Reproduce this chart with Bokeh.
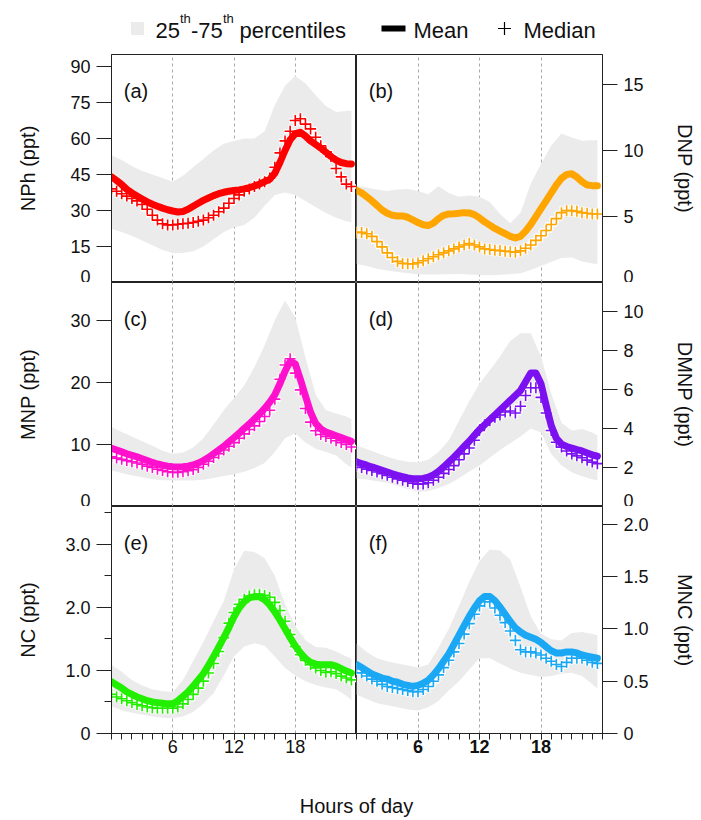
from bokeh.plotting import figure
from bokeh.layouts import column, row
from bokeh.models import Range1d, FixedTicker, PrintfTickFormatter, Label
from bokeh.embed import file_html
from bokeh.resources import INLINE

FONT = "Liberation Sans"

hours = [0, 0.5, 1, 1.5, 2, 2.5, 3, 3.5, 4, 4.5, 5, 5.5, 6, 6.5, 7, 7.5, 8, 8.5, 9, 9.5,
         10, 10.5, 11, 11.5, 12, 12.5, 13, 13.5, 14, 14.5, 15, 15.5, 16, 16.5, 17, 17.5,
         18, 18.5, 19, 19.5, 20, 20.5, 21, 21.5, 22, 22.5, 23, 23.5]
band_hours = [0, 1, 2, 3, 4, 5, 6, 7, 8, 9, 10, 11, 12, 13, 14, 15, 16, 17, 18, 19, 20, 21, 22, 23, 23.5]
hour_ticks = [6, 12, 18]

# (a) NPh
mean_a = [44, 42.5, 40.8, 38.8, 37.3, 36, 34.8, 33.6, 32.6, 31.8, 31, 30.3, 29.8, 29.4, 29.6, 30.5,
          31.8, 33, 34.2, 35.2, 36.2, 37, 37.6, 38, 38.3, 38.6, 39, 39.5, 40.2, 41, 42, 43,
          45.5, 50, 55, 59.5, 62, 62.6, 61, 59, 57.5, 56, 54.3, 52.5, 51, 50, 49.5, 49.4]
median_a = [39, 38, 37, 36, 35, 34, 32.5, 30.5, 28, 26, 24.5, 24, 24, 24.3, 24.5, 24.7,
            25, 25.5, 26, 27, 28, 29.5, 31, 33, 35, 36.5, 38, 39, 40, 41, 42, 43.5,
            48, 54, 59, 63, 67.5, 68.2, 66, 64, 60.5, 57, 54.5, 52.5, 47.5, 44, 41, 40]
p75_a = [53, 51, 48.5, 46.5, 45, 43.5, 42, 44.5, 48, 51.5, 55, 57.8, 59, 60, 60, 63,
         74, 82, 86, 83, 78, 73.5, 71, 71.5, 71.7]
p25_a = [22.4, 21, 19.5, 17.5, 15.5, 13.5, 12.3, 12.3, 13, 15, 18, 21, 23, 24, 27, 32,
         36.5, 37.5, 36.5, 34, 31.5, 29, 27, 25.5, 25.1]

# (b) DNP
mean_b = [7.0, 6.8, 6.5, 6.2, 5.85, 5.5, 5.25, 5.1, 5.05, 5.05, 4.95, 4.75, 4.55, 4.38, 4.32, 4.5,
          4.85, 5.1, 5.2, 5.22, 5.25, 5.3, 5.28, 5.15, 4.9, 4.6, 4.35, 4.1, 3.9, 3.7, 3.5, 3.38,
          3.5, 3.9, 4.4, 5.0, 5.6, 6.2, 6.8, 7.4, 7.9, 8.2, 8.25, 8.0, 7.65, 7.4, 7.35, 7.35]
median_b = [3.8, 3.8, 3.7, 3.5, 3.1, 2.7, 2.25, 1.9, 1.6, 1.45, 1.42, 1.4, 1.5, 1.65, 1.8, 1.95,
            2.1, 2.25, 2.4, 2.55, 2.7, 2.85, 2.95, 2.85, 2.7, 2.55, 2.5, 2.45, 2.42, 2.38, 2.33, 2.3,
            2.4, 2.6, 2.85, 3.2, 3.55, 3.95, 4.4, 4.85, 5.3, 5.45, 5.45, 5.4, 5.3, 5.25, 5.2, 5.2]
p75_b = [7.35, 7.2, 7.05, 6.95, 7.05, 7.1, 6.95, 6.7, 7.3, 6.8, 6.5, 6.6, 6.5, 6.1, 5.2, 4.5,
         5.3, 7.5, 9.0, 10.4, 11.3, 11.0, 10.75, 10.8, 10.8]
p25_b = [1.4, 1.25, 1.05, 0.92, 0.8, 0.7, 0.62, 0.6, 0.6, 0.62, 0.64, 0.6, 0.56, 0.55, 0.58, 0.62,
         0.7, 0.95, 1.25, 1.55, 1.85, 1.9, 1.6, 1.45, 1.4]

# (c) MNP
mean_c = [9.4, 9.1, 8.8, 8.5, 8.25, 8.0, 7.7, 7.4, 7.1, 6.85, 6.65, 6.5, 6.4, 6.35, 6.4, 6.5,
          6.7, 7.0, 7.4, 7.9, 8.5, 9.1, 9.7, 10.4, 11.1, 11.8, 12.6, 13.3, 14.1, 14.9, 15.8, 16.8,
          18.0, 19.8, 21.8, 23.4, 23.0, 20.5, 17.8, 15.2, 13.4, 12.5, 12.0, 11.7, 11.4, 11.1, 10.8, 10.5]
median_c = [8.0, 7.8, 7.6, 7.4, 7.2, 7.0, 6.8, 6.5, 6.3, 6.0, 5.8, 5.6, 5.5, 5.5, 5.6, 5.75,
            5.95, 6.3, 6.8, 7.3, 7.9, 8.5, 9.1, 9.7, 10.3, 11.0, 11.7, 12.4, 13.0, 13.7, 14.5, 15.5,
            17.3, 20.5, 22.8, 23.8, 21.5, 18.8, 15.8, 13.6, 12.2, 11.6, 11.3, 11.0, 10.6, 10.3, 10.0, 9.6]
p75_c = [12.8, 12.0, 11.3, 10.5, 9.8, 9.0, 8.5, 8.7, 9.5, 11.0, 13.2, 15.5, 17.5, 19.5, 22.5, 26,
         30, 33.2, 30.5, 24, 18, 15.5, 15.0, 14.5, 14.1]
p25_c = [5.8, 5.4, 5.0, 4.7, 4.4, 4.25, 4.2, 4.2, 4.2, 4.3, 4.6, 4.9, 5.2, 5.6, 6.2, 7.0,
         8.8, 11.0, 11.8, 10.3, 9.3, 8.8, 8.2, 6.8, 6.3]

# (d) DMNP
mean_d = [2.3, 2.2, 2.12, 2.03, 1.95, 1.86, 1.77, 1.68, 1.6, 1.53, 1.47, 1.43, 1.42, 1.44, 1.5, 1.62,
          1.8, 2.03, 2.28, 2.53, 2.8, 3.08, 3.35, 3.65, 3.95, 4.2, 4.45, 4.7, 4.95, 5.2, 5.45, 5.7,
          5.95, 6.4, 6.85, 6.85, 6.3, 5.2, 4.15, 3.5, 3.2, 3.08, 3.0, 2.92, 2.85, 2.75, 2.65, 2.58]
median_d = [2.1, 2.0, 1.92, 1.85, 1.77, 1.68, 1.6, 1.5, 1.42, 1.35, 1.28, 1.2, 1.14, 1.16, 1.22, 1.35,
            1.5, 1.7, 1.9, 2.1, 2.4, 2.7, 3.0, 3.4, 3.9, 4.2, 4.4, 4.58, 4.7, 4.85, 4.9, 4.8,
            5.15, 5.7, 6.1, 6.1, 5.6, 4.8, 3.9, 3.3, 3.05, 2.85, 2.7, 2.6, 2.5, 2.38, 2.28, 2.2]
p75_d = [3.13, 2.95, 2.75, 2.55, 2.4, 2.3, 2.27, 2.4, 2.8, 3.4, 4.4, 5.4, 6.3, 7.0, 7.7, 8.5,
         8.9, 8.9, 7.7, 5.8, 4.3, 3.9, 3.98, 3.8, 3.64]
p25_d = [1.42, 1.38, 1.3, 1.22, 1.05, 0.9, 0.75, 0.8, 0.95, 1.15, 1.45, 1.8, 2.1, 2.5, 2.9, 3.25,
         3.6, 4.0, 3.8, 2.7, 2.1, 1.76, 1.55, 1.4, 1.33]

# (e) NC
mean_e = [0.82, 0.77, 0.72, 0.66, 0.62, 0.58, 0.55, 0.52, 0.5, 0.49, 0.48, 0.47, 0.47, 0.52, 0.59, 0.66,
          0.75, 0.85, 0.95, 1.08, 1.22, 1.37, 1.52, 1.68, 1.85, 1.99, 2.09, 2.15, 2.17, 2.17, 2.12, 2.04,
          1.93, 1.8, 1.66, 1.52, 1.39, 1.28, 1.19, 1.13, 1.1, 1.09, 1.09, 1.09, 1.07, 1.03, 0.99, 0.96]
median_e = [0.62, 0.58, 0.55, 0.52, 0.49, 0.46, 0.44, 0.42, 0.41, 0.4, 0.4, 0.4, 0.4, 0.42, 0.47, 0.54,
            0.62, 0.72, 0.83, 0.96, 1.11, 1.3, 1.52, 1.75, 1.92, 2.05, 2.13, 2.18, 2.2, 2.21, 2.19, 2.16,
            2.08, 1.95, 1.78, 1.57, 1.38, 1.25, 1.16, 1.09, 1.04, 1.0, 0.97, 0.98, 0.95, 0.91, 0.88, 0.85]
p75_e = [1.09, 0.98, 0.85, 0.76, 0.7, 0.67, 0.66, 0.85, 1.15, 1.45, 1.78, 2.1, 2.6, 2.9, 2.88, 2.78,
         2.5, 2.05, 1.7, 1.48, 1.37, 1.36, 1.3, 1.22, 1.19]
p25_e = [0.43, 0.37, 0.33, 0.3, 0.27, 0.25, 0.24, 0.27, 0.34, 0.47, 0.64, 0.92, 1.22, 1.38, 1.43, 1.39,
         1.22, 1.04, 0.92, 0.83, 0.77, 0.73, 0.7, 0.6, 0.53]

# (f) MNC
mean_f = [0.66, 0.63, 0.6, 0.57, 0.55, 0.53, 0.52, 0.5, 0.49, 0.47, 0.46, 0.45, 0.46, 0.48, 0.51, 0.56,
          0.62, 0.69, 0.76, 0.85, 0.94, 1.03, 1.12, 1.2, 1.27, 1.31, 1.31, 1.27, 1.21, 1.14, 1.07, 1.01,
          0.97, 0.94, 0.92, 0.9, 0.87, 0.83, 0.79, 0.77, 0.77, 0.78, 0.78, 0.77, 0.75, 0.74, 0.73, 0.72]
median_f = [0.62, 0.58, 0.55, 0.52, 0.5, 0.47, 0.45, 0.44, 0.43, 0.42, 0.41, 0.4, 0.4, 0.42, 0.45, 0.5,
            0.56, 0.63, 0.7, 0.78, 0.86, 0.95, 1.05, 1.14, 1.22, 1.26, 1.26, 1.2, 1.13, 1.06, 0.98, 0.89,
            0.8, 0.78, 0.78, 0.77, 0.75, 0.72, 0.69, 0.66, 0.64, 0.68, 0.72, 0.72, 0.72, 0.7, 0.68, 0.67]
p75_f = [0.86, 0.78, 0.72, 0.69, 0.67, 0.65, 0.63, 0.66, 0.82, 1.0, 1.22, 1.45, 1.65, 1.76, 1.75, 1.66,
         1.4, 1.12, 0.95, 0.9, 0.89, 0.96, 0.97, 0.95, 0.94]
p25_f = [0.37, 0.33, 0.29, 0.27, 0.25, 0.23, 0.22, 0.25, 0.31, 0.41, 0.5, 0.61, 0.72, 0.72, 0.67, 0.62,
         0.58, 0.56, 0.54, 0.55, 0.57, 0.58, 0.55, 0.47, 0.43]

BAND = "#EBEBEB"
INK = "#111111"
AXC = "#222222"

panels = [
    dict(tag="(a)", label="NPh (ppt)", side="left", mean=mean_a, med=median_a, hi=p75_a, lo=p25_a,
         color="#FF0000", ymax=95, ticks=[0, 15, 30, 45, 60, 75, 90], minor=[], fmt="%d", h=228,
         bottom=False, als=28),
    dict(tag="(b)", label="DNP (ppt)", side="right", mean=mean_b, med=median_b, hi=p75_b, lo=p25_b,
         color="#FFA500", ymax=17.3, ticks=[0, 5, 10, 15], minor=[], fmt="%d", h=228,
         bottom=False, als=27),
    dict(tag="(c)", label="MNP (ppt)", side="left", mean=mean_c, med=median_c, hi=p75_c, lo=p25_c,
         color="#FF10CC", ymax=36.1, ticks=[0, 10, 20, 30], minor=[], fmt="%d", h=224,
         bottom=False, als=28),
    dict(tag="(d)", label="DMNP (ppt)", side="right", mean=mean_d, med=median_d, hi=p75_d, lo=p25_d,
         color="#7B10F0", ymax=11.5, ticks=[0, 2, 4, 6, 8, 10], minor=[], fmt="%d", h=224,
         bottom=False, als=27),
    dict(tag="(e)", label="NC (ppt)", side="left", mean=mean_e, med=median_e, hi=p75_e, lo=p25_e,
         color="#22EE00", ymax=3.6, ticks=[0, 1, 2, 3], minor=[0.5, 1.5, 2.5, 3.5], fmt="%.1f", h=227,
         bottom=True, als=23),
    dict(tag="(f)", label="MNC (ppt)", side="right", mean=mean_f, med=median_f, hi=p75_f, lo=p25_f,
         color="#1AA8F5", ymax=2.17, ticks=[0, 0.5, 1, 1.5, 2], minor=[], fmt="%.1f", h=227,
         bottom=True, als=22),
]

LEFT_FRAME, RIGHT_FRAME = 245, 246
LEFT_B, RIGHT_B = 111, 99
BOTTOM_B = 30
TICK_FONT = "18px"


def make_panel(cfg):
    left = cfg["side"] == "left"
    height = cfg["h"] + (BOTTOM_B if cfg["bottom"] else 0)
    p = figure(width=LEFT_FRAME + LEFT_B if left else RIGHT_FRAME + RIGHT_B, height=height,
               x_range=Range1d(0, 24), y_range=Range1d(0, cfg["ymax"]),
               x_axis_location="below" if cfg["bottom"] else None,
               y_axis_location="left" if left else "right",
               output_backend="svg", toolbar_location=None,
               min_border_left=LEFT_B if left else 0,
               min_border_right=0 if left else RIGHT_B,
               min_border_top=0, min_border_bottom=BOTTOM_B if cfg["bottom"] else 0)
    p.background_fill_color = "white"
    p.border_fill_color = "white"
    p.outline_line_color = AXC
    p.outline_line_width = 1
    p.ygrid.visible = False
    p.xgrid.ticker = FixedTicker(ticks=hour_ticks)
    p.xgrid.grid_line_color = "#A8A8A8"
    p.xgrid.grid_line_dash = "3 3"
    p.xgrid.grid_line_width = 1

    p.varea(x=band_hours, y1=cfg["lo"], y2=cfg["hi"], fill_color=BAND, fill_alpha=1.0)
    p.scatter(hours, cfg["med"], marker="cross", size=12, line_color="white", line_width=4.5)
    p.scatter(hours, cfg["med"], marker="cross", size=11, line_color=cfg["color"], line_width=1.6)
    p.line(hours, cfg["mean"], line_color=cfg["color"], line_width=7, line_join="round", line_cap="round")

    ya = p.yaxis[0]
    ya.ticker = FixedTicker(ticks=cfg["ticks"], minor_ticks=cfg["minor"])
    ya.formatter = PrintfTickFormatter(format=cfg["fmt"])
    ya.major_label_overrides = {0: "0"}
    ya.major_tick_out = 15
    ya.major_tick_in = 0
    ya.minor_tick_out = 7
    ya.minor_tick_in = 0
    ya.major_tick_line_color = AXC
    ya.minor_tick_line_color = AXC
    ya.axis_line_color = AXC
    ya.major_label_standoff = 6
    ya.major_label_text_font = FONT
    ya.major_label_text_font_size = TICK_FONT
    ya.major_label_text_color = INK
    ya.axis_label = cfg["label"]
    ya.axis_label_text_font = FONT
    ya.axis_label_text_font_size = "20px"
    ya.axis_label_text_font_style = "normal"
    ya.axis_label_text_color = INK
    ya.axis_label_standoff = cfg["als"]

    if cfg["bottom"]:
        xa = p.xaxis[0]
        xa.ticker = FixedTicker(ticks=hour_ticks, minor_ticks=list(range(0, 25)))
        xa.major_tick_out = 6
        xa.major_tick_in = 0
        xa.minor_tick_out = 6
        xa.minor_tick_in = 0
        xa.axis_line_color = AXC
        xa.major_tick_line_color = AXC
        xa.minor_tick_line_color = AXC
        xa.major_label_standoff = 0
        xa.major_label_text_font = FONT
        xa.major_label_text_font_size = TICK_FONT
        xa.major_label_text_color = INK
        xa.major_label_text_font_style = "normal" if left else "bold"

    top_frac = 1 - 36.0 / cfg["h"]
    p.add_layout(Label(x=1.2, y=cfg["ymax"] * top_frac, text=cfg["tag"], text_font=FONT,
                       text_font_size="20px", text_baseline="middle", text_align="left",
                       text_color=INK))
    return p


figs = [make_panel(c) for c in panels]

# legend strip (page pixel coordinates)
leg = figure(width=701, height=54, x_range=Range1d(0, 701), y_range=Range1d(54, 0),
             output_backend="svg", toolbar_location=None, min_border=0,
             x_axis_location=None, y_axis_location=None)
leg.outline_line_color = None
leg.xgrid.visible = False
leg.ygrid.visible = False
leg.rect(x=[137], y=[28], width=13, height=13, fill_color=BAND, line_color=None)


def ltext(fig, x, y, t, size, style="normal", align="left", baseline="alphabetic"):
    fig.add_layout(Label(x=x, y=y, text=t, text_font=FONT, text_font_size=size,
                         text_font_style=style, text_align=align, text_baseline=baseline,
                         text_color=INK))


ltext(leg, 155, 30, "25", "22px")
ltext(leg, 179.5, 18, "th", "13px")
ltext(leg, 190.5, 30, "-75", "22px")
ltext(leg, 222.5, 18, "th", "13px")
ltext(leg, 239, 30, "percentiles", "22px")
leg.line(x=[381, 405], y=[28, 28], line_color="black", line_width=6)
ltext(leg, 413, 30, "Mean", "22px")
leg.scatter(x=[504], y=[28], marker="cross", size=13, line_color="black", line_width=1.2)
ltext(leg, 523, 30, "Median", "22px")

# x-axis title strip
xl = figure(width=701, height=56, x_range=Range1d(0, 701), y_range=Range1d(56, 0),
            output_backend="svg", toolbar_location=None, min_border=0,
            x_axis_location=None, y_axis_location=None)
xl.outline_line_color = None
xl.xgrid.visible = False
xl.ygrid.visible = False
ltext(xl, 356, 42, "Hours of day", "20px", align="center", baseline="middle")

layout = column(leg,
                row(column(figs[0], figs[2], figs[4]), column(figs[1], figs[3], figs[5])),
                xl)

open("out.html", "w").write(file_html(layout, INLINE))
